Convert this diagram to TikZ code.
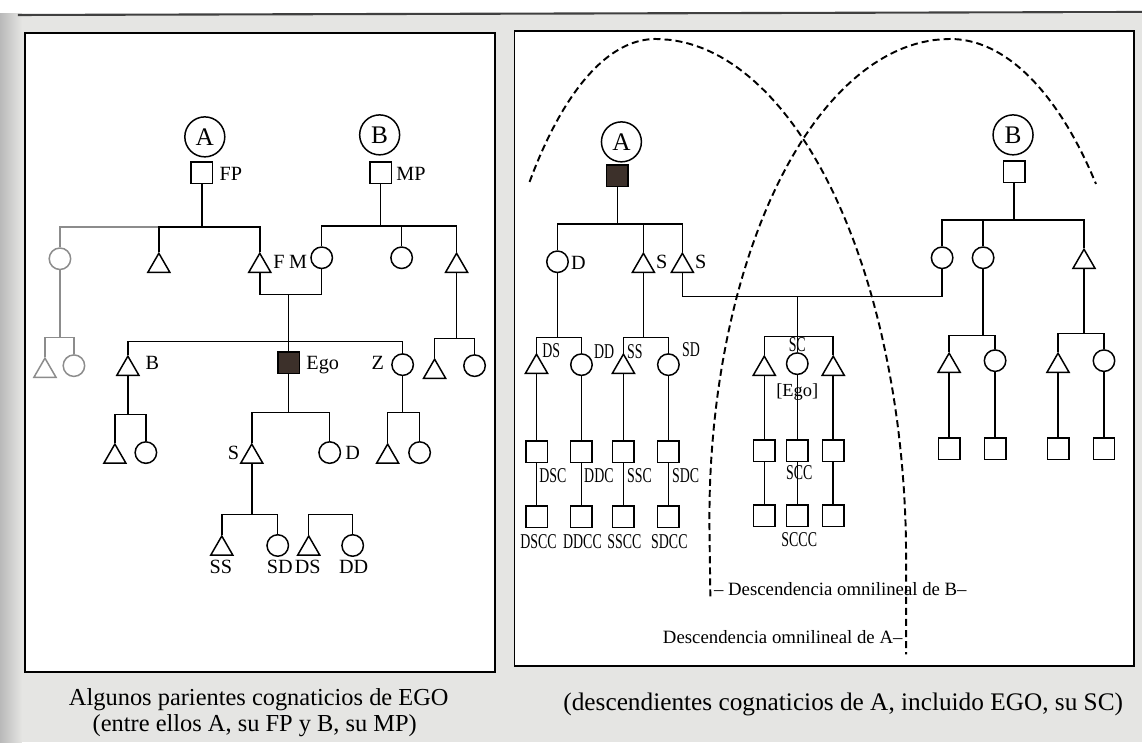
\documentclass[tikz,border=0pt]{standalone}
\usepackage{fontspec}
\setmainfont{Liberation Serif}
\newfontfamily\narrowserif[FakeStretch=0.66]{Liberation Serif}
\usetikzlibrary{shapes,shapes.geometric}
\definecolor{pagegray}{RGB}{229,229,227}
\definecolor{egobrown}{RGB}{60,48,42}

\begin{document}
\begin{tikzpicture}[x=0.2mm,y=-0.2mm,line width=0.85pt]
   \tikzstyle{sq}=[rectangle, draw, minimum size=4.3mm, inner sep=0pt]
   \tikzstyle{ci}=[circle, draw, minimum size=4.3mm, inner sep=0pt]
   \tikzstyle{tri}=[regular polygon, regular polygon sides=3, draw, minimum size=5.1mm, inner sep=0pt, anchor=north]
   \tikzstyle{anc}=[circle, draw, minimum size=8mm, inner sep=0pt, font=\fontsize{14.4}{16}\selectfont]
   \tikzstyle{lab}=[inner sep=0pt, font=\fontsize{11.5}{13}\selectfont]
   \tikzstyle{nlab}=[inner sep=0pt, font=\fontsize{12}{13}\narrowserif]
   \tikzstyle{omnilab}=[inner sep=0pt, font=\fontsize{10.7}{12}\selectfont]
   \tikzstyle{caption}=[inner sep=0pt, anchor=base, font=\fontsize{13.9}{16}\selectfont]
   \tikzstyle{omni}=[dash pattern=on 4pt off 2.3pt, line width=1.1pt]
   \tikzstyle{panel}=[draw, fill=white, line width=1.1pt]
   % page and the two boxes
   \fill[white] (0,0) rectangle (1143,743);
   \fill[pagegray] (0,14) rectangle (1143,743);
   \shade[left color=gray!55, right color=pagegray] (0,14) rectangle (22,743);
   \draw[line width=1.2pt, black!75] (18,15) -- (1143,12);
   \useasboundingbox (0,0) rectangle (1143,743);
   \draw[panel] (25,33) rectangle (495,673);
   \draw[panel] (515,31) rectangle (1135,667);

   % left box: some cognatic kin of Ego
   \node[anc] (lA) at (205,137) {A};
   \node[sq] (fp) at (202,173) {};
   \node[lab,anchor=west] (fpname) at (219,174) {FP};
   \node[anc] (lB) at (380,135) {B};
   \node[sq] (mp) at (381,173) {};
   \node[lab,anchor=west] (mpname) at (396,174) {MP};
   \coordinate (fpbar) at (202,227);
   \coordinate (mpbar) at (381,226);
   \node[ci,draw=black!45] (fz) at (60,259) {};
   \node[tri] (fb) at (159,252) {};
   \node[tri] (f) at (260,252) {};
   \node[lab,anchor=west] (fname) at (273,262) {F};
   \node[ci] (m) at (322,258) {};
   \node[lab,anchor=east] (mname) at (308,262) {M};
   \node[ci] (mz) at (402,258) {};
   \node[tri] (mb) at (457,252) {};
   \draw (fp) -- (fpbar);
   \draw (mp) -- (mpbar);
   \draw[black!45] (fz.north) |- (fb.north |- fpbar);
   \foreach \c in {fb,f} \draw (\c.north) |- (fpbar);
   \foreach \c in {m,mz,mb} \draw (\c.north) |- (mpbar);
   \coordinate (fm) at (289,295);
   \draw (f.south) |- (fm);
   \draw (m.south) |- (fm);
   \node[sq,fill=egobrown] (ego) at (289,363) {};
   \node[lab,anchor=west] (egoname) at (306,365) {Ego};
   \draw (fm) -- (ego);
   \coordinate (egobar) at (289,342);
   \node[tri] (b) at (128,355) {};
   \node[lab,anchor=west] (bname) at (145,363) {B};
   \node[ci] (z) at (403,365) {};
   \node[lab,anchor=east] (zname) at (385,363) {Z};
   \foreach \c in {b,z} \draw (\c.north) |- (egobar);
   \foreach \p/\px/\by/\tx/\ty/\cx/\cy/\col in {fz/60/338/45/357/74/366/black!45, mb/457/339/435/358/475/366/black, b/128/415/115/443/146/453/black, z/403/413/388/443/420/453/black} {
       \coordinate (bar\p) at (\px,\by);
       \node[tri,draw=\col] (t\p) at (\tx,\ty) {};
       \node[ci,draw=\col] (d\p) at (\cx,\cy) {};
       \draw[\col] (\p.south) -- (bar\p);
       \draw[\col] (t\p.north) |- (bar\p);
       \draw[\col] (d\p.north) |- (bar\p);
   }
   \coordinate (egokids) at (289,413);
   \draw (ego) -- (egokids);
   \node[tri] (s) at (252,443) {};
   \node[lab,anchor=east] (sname) at (240,453) {S};
   \node[ci] (d) at (330,453) {};
   \node[lab,anchor=west] (dname) at (345,453) {D};
   \foreach \c in {s,d} \draw (\c.north) |- (egokids);
   \coordinate (skids) at (252,515);
   \coordinate (dkids) at (331,515);
   \draw (s.south) -- (skids);
   \node[tri] (ss) at (222,535) {};
   \node[ci] (sd) at (278,546) {};
   \node[tri] (ds) at (309,535) {};
   \node[ci] (dd) at (353,546) {};
   \foreach \c in {ss,sd} \draw (\c.north) |- (skids);
   \foreach \c in {ds,dd} \draw (\c.north) |- (dkids);
   \foreach \x/\t in {221/SS,280/SD,308/DS,354/DD}
       \node[lab,anchor=north] (n\t) at (\x,560) {\t};

   % right box: cognatic descendants of A
   \node[anc] (rA) at (622,142) {A};
   \node[sq,fill=egobrown] (asq) at (618,176) {};
   \coordinate (abar) at (618,224);
   \draw (asq) -- (abar);
   \node[ci] (rd) at (558,262) {};
   \node[tri] (rs) at (644,252) {};
   \node[tri] (rt) at (683,252) {};
   \foreach \c in {rd,rs,rt} \draw (\c.north) |- (abar);
   \node[lab,anchor=west] (rdname) at (571,263) {D};
   \node[lab,anchor=west] (rsname) at (656,262) {S};
   \node[lab,anchor=west] (rtname) at (695,262) {S};
   \coordinate (rdbar) at (558,338);
   \coordinate (rsbar) at (644,338);
   \draw (rd) -- (rdbar);
   \draw (rs.south) -- (rsbar);
   \foreach \c/\x/\kind/\y/\p in {rds/537/tri/353/rdbar, rdd/582/ci/365/rdbar, rss/624/tri/353/rsbar, rsd/669/ci/365/rsbar} {
       \node[\kind] (\c) at (\x,\y) {};
       \node[sq] (\c1) at (\x,452) {};
       \node[sq] (\c2) at (\x,517) {};
       \draw (\c.north) |- (\p);
       \draw (\c.south) -- (\c1);
       \draw (\c1) -- (\c2);
   }
   \foreach \x/\y/\t in {542/351/DS, 594/352/DD, 627/352/SS, 682/350/SD, 539/476/DSC, 584/476/DDC, 627/476/SSC, 672/476/SDC}
       \node[nlab,anchor=west] (n\t) at (\x,\y) {\t};
   \foreach \x/\t in {539/DSCC, 583/DDCC, 625/SSCC, 670/SDCC}
       \node[nlab] (n\t) at (\x,542) {\t};

   \node[anc] (rB) at (1014,135) {B};
   \node[sq] (bsq) at (1015,172) {};
   \coordinate (bbar) at (1015,220);
   \draw (bsq) -- (bbar);
   \node[ci] (bd) at (943,258) {};
   \node[ci] (be) at (984,258) {};
   \node[tri] (bs) at (1085,248) {};
   \foreach \c in {bd,be,bs} \draw (\c.north) |- (bbar);
   \coordinate (bebar) at (984,336);
   \coordinate (bsbar) at (1085,334);
   \draw (be) -- (bebar);
   \draw (bs.south) -- (bsbar);
   \foreach \c/\x/\kind/\y/\p in {bet/950/tri/352/bebar, bed/996/ci/361/bebar, bst/1059/tri/352/bsbar, bsd/1105/ci/361/bsbar} {
       \node[\kind] (\c) at (\x,\y) {};
       \node[sq] (\c1) at (\x,449) {};
       \draw (\c.north) |- (\p);
       \draw (\c.south) -- (\c1);
   }

   % Ego and his siblings, children of S and of B's daughter
   \coordinate (sc) at (798,297);
   \coordinate (scbar) at (798,337);
   \draw (rt.south) |- (sc);
   \draw (bd.south) |- (sc);
   \draw (sc) -- (scbar);
   \foreach \c/\x/\kind/\y in {sca/765/tri/355, scb/798/ci/364, scd/834/tri/355} {
       \node[\kind] (\c) at (\x,\y) {};
       \node[sq] (\c1) at (\x,451) {};
       \node[sq] (\c2) at (\x,516) {};
       \draw (\c.north) |- (scbar);
       \draw (\c.south) -- (\c1);
       \draw (\c1) -- (\c2);
   }
   \node[nlab] (nSC) at (798,345) {SC};
   \node[lab,font=\fontsize{10.5}{12}\selectfont] (nEgo) at (798,392) {[Ego]};
   \node[nlab] (nSCC) at (800,473) {SCC};
   \node[nlab] (nSCCC) at (800,540) {SCCC};

   % omnilineal descent of A and of B
   \draw[omni] plot[domain=133.5:90, samples=20, smooth] ({656+183*cos(\x)}, {560-521*sin(\x)})
       -- plot[domain=90:0, samples=25, smooth] ({656+251*cos(\x)}, {560-521*sin(\x)}) -- (907,655);
   \draw[omni] (711,597) -- plot[domain=180:90, samples=25, smooth] ({951+241*cos(\x)}, {520-481*sin(\x)})
       -- plot[domain=90:44.3, samples=20, smooth] ({951+204*cos(\x)}, {520-481*sin(\x)});
   \node[omnilab,anchor=west] (omniB) at (714,590) {– Descendencia omnilineal de B–};
   \node[omnilab,anchor=east] (omniA) at (904,638) {Descendencia omnilineal de A–};

   \node[caption] (capl1) at (259,706) {Algunos parientes cognaticios de EGO};
   \node[caption] (capl2) at (255,732) {(entre ellos A, su FP y B, su MP)};
   \node[caption,font=\fontsize{14.4}{16}\selectfont] (capr) at (844,711) {(descendientes cognaticios de A, incluido EGO, su SC)};
\end{tikzpicture}
\end{document}
